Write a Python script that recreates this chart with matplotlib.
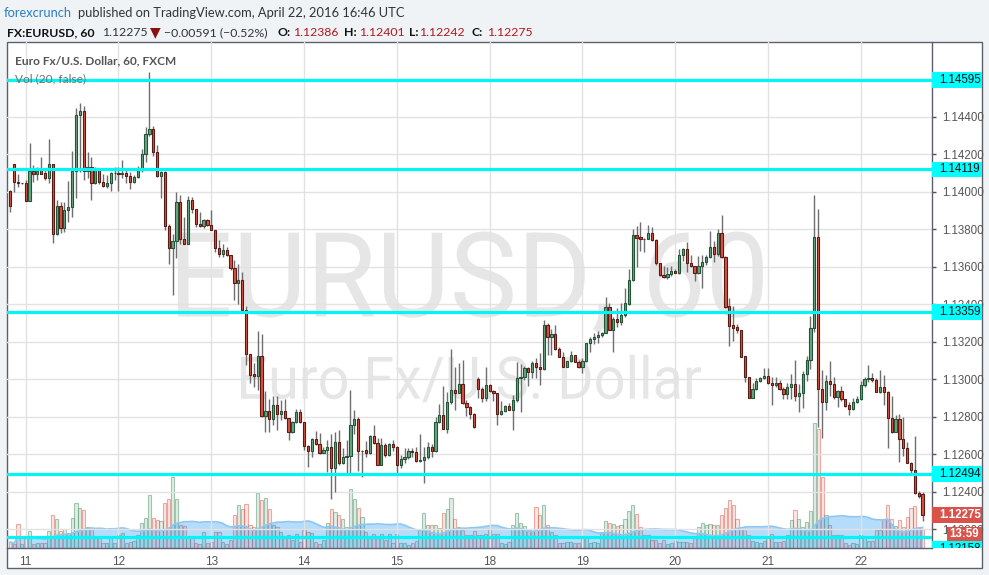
import numpy as np
import pandas as pd
import matplotlib
matplotlib.use("Agg")
import matplotlib.pyplot as plt
from matplotlib.patches import Rectangle, PathPatch
from matplotlib.textpath import TextPath
from matplotlib.font_manager import FontProperties
from matplotlib.transforms import Affine2D, blended_transform_factory, Bbox

# ---------------- data ----------------
opens = [1.14004, 1.14146, 1.14050, 1.14044, 1.14044, 1.13952, 1.14110, 1.14096, 1.14114, 1.14101,
         1.14071, 1.14146, 1.13772, 1.13922, 1.13804, 1.13900, 1.13916, 1.14110, 1.14409, 1.14430,
         1.14110, 1.14133, 1.14044, 1.14114, 1.14050, 1.14028, 1.14044, 1.14098, 1.14098, 1.14096,
         1.14098, 1.14085, 1.14050, 1.14080, 1.14114, 1.14199, 1.14306, 1.14332, 1.14210, 1.14085,
         1.14103, 1.13819, 1.13699, 1.13739, 1.13947, 1.13748, 1.13722, 1.13956, 1.13908, 1.13828,
         1.13817, 1.13849, 1.13823, 1.13796, 1.13700, 1.13668, 1.13691, 1.13663, 1.13594, 1.13512,
         1.13527, 1.13371, 1.13133, 1.13030, 1.13018, 1.13122, 1.12805, 1.12832, 1.12786, 1.12860,
         1.12817, 1.12832, 1.12791, 1.12716, 1.12770, 1.12823, 1.12770, 1.12645, 1.12619, 1.12679,
         1.12652, 1.12607, 1.12622, 1.12636, 1.12524, 1.12666, 1.12551, 1.12583, 1.12590, 1.12755,
         1.12790, 1.12618, 1.12622, 1.12607, 1.12696, 1.12661, 1.12545, 1.12648, 1.12595, 1.12652,
         1.12641, 1.12545, 1.12574, 1.12583, 1.12616, 1.12613, 1.12565, 1.12568, 1.12583, 1.12636,
         1.12618, 1.12774, 1.12808, 1.12737, 1.12876, 1.12945, 1.12927, 1.12972, 1.12874, 1.12853,
         1.12817, 1.13001, 1.12946, 1.12902, 1.12969, 1.12939, 1.12925, 1.12815, 1.12831, 1.12857,
         1.12836, 1.12889, 1.13005, 1.13014, 1.13058, 1.13040, 1.13085, 1.13063, 1.13054, 1.13289,
         1.13223, 1.13239, 1.13163, 1.13120, 1.13067, 1.13097, 1.13129, 1.13093, 1.13067, 1.13097,
         1.13195, 1.13214, 1.13225, 1.13236, 1.13248, 1.13383, 1.13262, 1.13319, 1.13307, 1.13342,
         1.13402, 1.13529, 1.13770, 1.13757, 1.13747, 1.13750, 1.13778, 1.13741, 1.13620, 1.13557,
         1.13543, 1.13561, 1.13577, 1.13565, 1.13664, 1.13694, 1.13619, 1.13605, 1.13565, 1.13605,
         1.13627, 1.13653, 1.13706, 1.13667, 1.13777, 1.13653, 1.13388, 1.13287, 1.13278, 1.13264,
         1.13123, 1.13010, 1.12902, 1.12948, 1.12990, 1.13008, 1.13017, 1.12982, 1.12967, 1.12982,
         1.12948, 1.12919, 1.12961, 1.12972, 1.12912, 1.12926, 1.13030, 1.13101, 1.13274, 1.13759,
         1.12950, 1.12876, 1.12989, 1.12972, 1.12903, 1.12936, 1.12892, 1.12862, 1.12839, 1.12876,
         1.12897, 1.12968, 1.13000, 1.13004, 1.12998, 1.12933, 1.12959, 1.12933, 1.12791, 1.12720,
         1.12788, 1.12681, 1.12635, 1.12552, 1.12517, 1.12393, 1.12386]
highs = [1.14009, 1.14146, 1.14095, 1.14048, 1.14062, 1.14258, 1.14142, 1.14133, 1.14183, 1.14124,
         1.14281, 1.14146, 1.13956, 1.13947, 1.13947, 1.14057, 1.14217, 1.14444, 1.14471, 1.14459,
         1.14210, 1.14183, 1.14133, 1.14124, 1.14096, 1.14089, 1.14107, 1.14133, 1.14133, 1.14169,
         1.14124, 1.14103, 1.14089, 1.14137, 1.14228, 1.14347, 1.14640, 1.14350, 1.14249, 1.14110,
         1.14110, 1.13830, 1.13775, 1.14000, 1.13982, 1.13867, 1.13979, 1.13973, 1.13908, 1.13894,
         1.13855, 1.13855, 1.13902, 1.13796, 1.13743, 1.13722, 1.13707, 1.13663, 1.13637, 1.13615,
         1.13574, 1.13388, 1.13133, 1.13087, 1.13255, 1.13243, 1.12936, 1.12892, 1.12910, 1.12910,
         1.12888, 1.12892, 1.12791, 1.12778, 1.12839, 1.12839, 1.12770, 1.12650, 1.12684, 1.12725,
         1.12714, 1.12636, 1.12675, 1.12710, 1.12719, 1.12728, 1.12631, 1.12675, 1.12941, 1.12835,
         1.12799, 1.12625, 1.12671, 1.12700, 1.12755, 1.12684, 1.12684, 1.12661, 1.12661, 1.12675,
         1.12643, 1.12595, 1.12631, 1.12631, 1.12631, 1.12639, 1.12710, 1.12639, 1.12666, 1.12652,
         1.12799, 1.12870, 1.12963, 1.12933, 1.13163, 1.13066, 1.13087, 1.13105, 1.12888, 1.12856,
         1.12820, 1.13010, 1.12960, 1.13063, 1.12972, 1.12942, 1.12925, 1.12886, 1.12862, 1.12875,
         1.12916, 1.13093, 1.13081, 1.13070, 1.13067, 1.13099, 1.13111, 1.13138, 1.13315, 1.13298,
         1.13266, 1.13289, 1.13173, 1.13147, 1.13097, 1.13150, 1.13130, 1.13102, 1.13111, 1.13195,
         1.13227, 1.13248, 1.13257, 1.13253, 1.13440, 1.13404, 1.13333, 1.13378, 1.13404, 1.13484,
         1.13588, 1.13800, 1.13817, 1.13840, 1.13752, 1.13823, 1.13812, 1.13745, 1.13622, 1.13606,
         1.13596, 1.13605, 1.13588, 1.13694, 1.13702, 1.13733, 1.13662, 1.13606, 1.13658, 1.13664,
         1.13664, 1.13791, 1.13738, 1.13800, 1.13876, 1.13658, 1.13434, 1.13393, 1.13293, 1.13264,
         1.13123, 1.13010, 1.12982, 1.13005, 1.13014, 1.13058, 1.13058, 1.13014, 1.13014, 1.12996,
         1.12960, 1.12981, 1.13030, 1.13101, 1.12972, 1.13042, 1.13122, 1.13335, 1.13982, 1.13910,
         1.13048, 1.13025, 1.13096, 1.13012, 1.12945, 1.12963, 1.12892, 1.12880, 1.12901, 1.12912,
         1.12989, 1.13012, 1.13078, 1.13035, 1.13004, 1.13048, 1.13021, 1.12936, 1.12912, 1.12809,
         1.12812, 1.12800, 1.12664, 1.12561, 1.12699, 1.12402, 1.12401]
lows = [1.13893, 1.14000, 1.14023, 1.14040, 1.13952, 1.13952, 1.14050, 1.14062, 1.14096, 1.14062,
        1.14044, 1.13724, 1.13769, 1.13778, 1.13787, 1.13840, 1.13867, 1.13968, 1.14107, 1.14062,
        1.14071, 1.13957, 1.14041, 1.14041, 1.14025, 1.14018, 1.14004, 1.14062, 1.14004, 1.14071,
        1.14044, 1.14012, 1.14048, 1.14075, 1.14107, 1.14156, 1.14299, 1.14192, 1.14080, 1.13968,
        1.13793, 1.13615, 1.13447, 1.13647, 1.13722, 1.13722, 1.13722, 1.13885, 1.13810, 1.13810,
        1.13807, 1.13817, 1.13793, 1.13677, 1.13654, 1.13654, 1.13658, 1.13580, 1.13424, 1.13402,
        1.13367, 1.13074, 1.12982, 1.12959, 1.12945, 1.12800, 1.12720, 1.12720, 1.12755, 1.12729,
        1.12782, 1.12786, 1.12676, 1.12711, 1.12764, 1.12764, 1.12622, 1.12534, 1.12587, 1.12649,
        1.12600, 1.12604, 1.12506, 1.12359, 1.12400, 1.12542, 1.12547, 1.12497, 1.12501, 1.12710,
        1.12512, 1.12476, 1.12586, 1.12600, 1.12654, 1.12542, 1.12542, 1.12586, 1.12590, 1.12618,
        1.12501, 1.12529, 1.12551, 1.12577, 1.12586, 1.12560, 1.12560, 1.12448, 1.12577, 1.12586,
        1.12613, 1.12767, 1.12737, 1.12714, 1.12870, 1.12835, 1.12927, 1.12870, 1.12803, 1.12790,
        1.12740, 1.12898, 1.12880, 1.12886, 1.12934, 1.12886, 1.12756, 1.12809, 1.12827, 1.12836,
        1.12729, 1.12880, 1.12827, 1.12996, 1.12964, 1.13005, 1.13005, 1.12969, 1.13049, 1.13129,
        1.13129, 1.13156, 1.13116, 1.13067, 1.13063, 1.13093, 1.13093, 1.13058, 1.13031, 1.13093,
        1.13147, 1.13188, 1.13195, 1.13227, 1.13244, 1.13262, 1.13147, 1.13280, 1.13289, 1.13333,
        1.13398, 1.13526, 1.13596, 1.13685, 1.13676, 1.13747, 1.13738, 1.13611, 1.13552, 1.13540,
        1.13535, 1.13552, 1.13565, 1.13561, 1.13632, 1.13570, 1.13598, 1.13526, 1.13561, 1.13485,
        1.13611, 1.13646, 1.13623, 1.13658, 1.13646, 1.13381, 1.13176, 1.13204, 1.13247, 1.13119,
        1.12987, 1.12899, 1.12899, 1.12943, 1.12984, 1.13000, 1.12975, 1.12863, 1.12960, 1.12943,
        1.12895, 1.12897, 1.12897, 1.12883, 1.12827, 1.12848, 1.12989, 1.13057, 1.13251, 1.12747,
        1.12688, 1.12835, 1.12912, 1.12897, 1.12853, 1.12883, 1.12853, 1.12809, 1.12835, 1.12871,
        1.12888, 1.12959, 1.12986, 1.12986, 1.12933, 1.12929, 1.12862, 1.12635, 1.12712, 1.12717,
        1.12558, 1.12588, 1.12552, 1.12499, 1.12388, 1.12366, 1.12242]
closes = [1.13925, 1.14050, 1.14044, 1.14044, 1.13952, 1.14110, 1.14096, 1.14110, 1.14096, 1.14071,
          1.14146, 1.13772, 1.13922, 1.13804, 1.13900, 1.13916, 1.14110, 1.14409, 1.14430, 1.14110,
          1.14133, 1.14044, 1.14114, 1.14050, 1.14028, 1.14044, 1.14098, 1.14098, 1.14096, 1.14098,
          1.14085, 1.14050, 1.14080, 1.14114, 1.14199, 1.14306, 1.14332, 1.14210, 1.14085, 1.14103,
          1.13819, 1.13699, 1.13739, 1.13947, 1.13748, 1.13722, 1.13956, 1.13908, 1.13828, 1.13817,
          1.13849, 1.13823, 1.13796, 1.13700, 1.13668, 1.13691, 1.13663, 1.13594, 1.13512, 1.13527,
          1.13371, 1.13133, 1.13025, 1.13018, 1.13122, 1.12805, 1.12832, 1.12786, 1.12860, 1.12817,
          1.12832, 1.12791, 1.12716, 1.12770, 1.12823, 1.12770, 1.12645, 1.12619, 1.12679, 1.12652,
          1.12607, 1.12622, 1.12636, 1.12524, 1.12666, 1.12551, 1.12583, 1.12590, 1.12755, 1.12790,
          1.12618, 1.12618, 1.12607, 1.12696, 1.12661, 1.12545, 1.12648, 1.12595, 1.12652, 1.12639,
          1.12545, 1.12574, 1.12583, 1.12616, 1.12613, 1.12565, 1.12568, 1.12583, 1.12636, 1.12618,
          1.12774, 1.12808, 1.12737, 1.12876, 1.12945, 1.12927, 1.12972, 1.12874, 1.12853, 1.12817,
          1.12744, 1.12946, 1.12902, 1.12969, 1.12939, 1.12925, 1.12815, 1.12831, 1.12857, 1.12836,
          1.12889, 1.13005, 1.13014, 1.13058, 1.13040, 1.13085, 1.13063, 1.13054, 1.13289, 1.13223,
          1.13239, 1.13163, 1.13120, 1.13067, 1.13097, 1.13129, 1.13093, 1.13067, 1.13097, 1.13195,
          1.13214, 1.13225, 1.13236, 1.13248, 1.13383, 1.13262, 1.13319, 1.13307, 1.13342, 1.13404,
          1.13529, 1.13770, 1.13755, 1.13747, 1.13750, 1.13778, 1.13741, 1.13618, 1.13556, 1.13543,
          1.13561, 1.13577, 1.13565, 1.13664, 1.13694, 1.13619, 1.13605, 1.13565, 1.13605, 1.13627,
          1.13653, 1.13706, 1.13667, 1.13777, 1.13653, 1.13384, 1.13282, 1.13275, 1.13264, 1.13119,
          1.13010, 1.12902, 1.12948, 1.12990, 1.13008, 1.13017, 1.12978, 1.12967, 1.12982, 1.12946,
          1.12922, 1.12961, 1.12972, 1.12912, 1.12926, 1.13030, 1.13101, 1.13274, 1.13759, 1.12950,
          1.12876, 1.12989, 1.12972, 1.12903, 1.12936, 1.12892, 1.12858, 1.12839, 1.12876, 1.12897,
          1.12968, 1.13000, 1.13004, 1.12998, 1.12933, 1.12959, 1.12933, 1.12791, 1.12720, 1.12788,
          1.12681, 1.12635, 1.12552, 1.12517, 1.12393, 1.12375, 1.12275]
volumes = [18, 11, 73, 13, 35, 52, 11, 16, 16, 16, 52, 98, 88, 52, 58, 45, 90, 136, 120, 113,
           64, 58, 36, 33, 15, 15, 33, 15, 40, 45, 15, 18, 20, 38, 76, 91, 158, 90, 83, 80,
           135, 148, 213, 148, 68, 65, 33, 33, 15, 11, 48, 16, 18, 48, 48, 18, 13, 23, 98, 128,
           118, 133, 68, 63, 166, 143, 151, 118, 68, 63, 48, 35, 38, 23, 43, 18, 53, 48, 45, 18,
           13, 23, 76, 118, 108, 98, 88, 63, 176, 148, 120, 93, 48, 35, 43, 35, 43, 23, 43, 16,
           43, 16, 16, 10, 16, 20, 58, 106, 70, 70, 68, 61, 106, 118, 151, 86, 63, 53, 40, 40,
           50, 38, 38, 43, 56, 43, 43, 16, 13, 18, 70, 106, 76, 66, 53, 58, 123, 100, 128, 70,
           48, 38, 16, 16, 18, 18, 16, 16, 35, 33, 16, 18, 16, 48, 80, 76, 73, 66, 68, 88,
           111, 128, 101, 63, 38, 38, 23, 23, 16, 23, 11, 16, 20, 18, 18, 18, 16, 33, 62, 76,
           70, 73, 70, 70, 100, 120, 143, 128, 86, 58, 58, 38, 20, 18, 16, 20, 36, 43, 18, 18,
           20, 38, 83, 113, 88, 63, 78, 110, 375, 357, 213, 98, 68, 40, 38, 38, 16, 8, 16, 13,
           38, 36, 20, 20, 53, 53, 86, 128, 88, 66, 83, 63, 93, 120, 126, 63, 58]
day_index = [4, 28, 52, 76, 100, 124, 148, 172, 196, 220]
day_labels = ["11", "12", "13", "14", "15", "18", "19", "20", "21", "22"]
levels = [1.14595, 1.14119, 1.13359, 1.12494, 1.12158]
last_price = 1.12275
price_ticks = [1.122, 1.124, 1.126, 1.128, 1.130, 1.132, 1.134, 1.136, 1.138, 1.140, 1.142, 1.144, 1.146]

# ---------------- layout ----------------
W, H = 989, 575
fig = plt.figure(figsize=(W / 100, H / 100), dpi=100, facecolor="#f0f3f6")

def fx(px):
    return px / W

def fy(py):
    return 1 - py / H

BG_FONT = "Lato"
AX_FONT = "Liberation Sans"

fig.add_artist(Rectangle((fx(7), fy(568)), fx(982) - fx(7), fy(42) - fy(568),
                         transform=fig.transFigure, facecolor="white",
                         edgecolor="#5d606b", lw=1, zorder=-10))

rect = [fx(7), fy(548), fx(931.5) - fx(7), fy(42) - fy(548)]
axv = fig.add_axes(rect, zorder=0)
ax = fig.add_axes(rect, zorder=1)
ax.patch.set_visible(False)

n = len(closes)
x = np.arange(n)
o = np.array(opens); h = np.array(highs); l = np.array(lows); c = np.array(closes)
up = c >= o

XL = (-0.84, 238.3)
YL = (1.12100, 1.14798)

# volume
vol = np.array(volumes, dtype=float)
vcol_face = np.where(up, "#6ba58333", "#d7544222")
vcol_edge = np.where(up, "#6ba58399", "#d7544277")
axv.bar(x, vol, width=0.82, color=list(vcol_face), edgecolor=list(vcol_edge), lw=0.8, zorder=2)
ma = pd.Series(vol).rolling(20, min_periods=1).mean().to_numpy()
axv.fill_between(x, 0, ma, color="#2196f3", alpha=0.33, lw=0, zorder=3)
axv.plot(x, ma, color="#8cc6f2", lw=1.2, zorder=3)
axv.set_xlim(*XL)
axv.set_ylim(0, 506 * 3)
axv.axis("off")

# grid / axes
ax.set_axisbelow(True)
ax.set_xticks(day_index)
ax.set_xticklabels(day_labels)
ax.set_yticks(price_ticks)
ax.set_yticklabels([("" if t > 1.1455 else f"{t:.5f}") for t in price_ticks])
ax.grid(True, color="#e2e2e2", lw=1)
ax.yaxis.tick_right()
ax.tick_params(axis="y", length=3, width=1, color="#555555", pad=5,
               labelsize=8.3, labelcolor="#555555")
ax.tick_params(axis="x", length=0, pad=6, labelsize=8.5, labelcolor="#555555")
for lab in ax.get_xticklabels() + ax.get_yticklabels():
    lab.set_fontfamily(AX_FONT)
for s in ["left", "top"]:
    ax.spines[s].set_visible(False)
for s in ["right", "bottom"]:
    ax.spines[s].set_color("#5d606b")
    ax.spines[s].set_linewidth(1)

# watermark
def watermark(s, x0, x1, ytop, ybase, color):
    fp = FontProperties(family="Roboto", weight="normal")
    tp = TextPath((0, 0), s, size=100, prop=fp)
    bb = tp.get_extents()
    cap = TextPath((0, 0), "E", size=100, prop=fp).get_extents()
    sx = (x1 - x0) / bb.width
    sy = (ybase - ytop) / cap.y1
    tr = Affine2D().translate(-bb.x0, 0).scale(sx, sy).translate(x0, H - ybase)
    p = PathPatch(tp, transform=tr, facecolor=color, lw=0, zorder=0.3)
    p.set_clip_on(False)
    ax.add_artist(p)

watermark("EURUSD, 60", 177.8, 762.8, 232.7, 316.5, "#e6e6e6")
watermark("Euro Fx/U.S. Dollar", 241, 701, 357, 398.7, "#e6e6e6")

# candles
ax.vlines(x, l, h, color="#6e6e70", lw=1, zorder=2)
body_bottom = np.minimum(o, c)
body_h = np.maximum(np.abs(c - o), 0.000015)
ax.bar(x, body_h, bottom=body_bottom, width=0.58,
       color=np.where(up, "#6ba583", "#d75442"),
       edgecolor=np.where(up, "#225437", "#5b1a13"), lw=0.8, zorder=3)

# horizontal levels
for lv in levels:
    ax.axhline(lv, color="#00f5f5", lw=2.3, zorder=4)

ax.set_xlim(*XL)
ax.set_ylim(*YL)

# in-chart titles
fig.text(fx(15.3), fy(60.7), "Euro Fx/U.S. Dollar, 60, FXCM", fontsize=8.6, fontweight="bold",
         color="#555555", va="center", ha="left", family=BG_FONT)
fig.text(fx(15.3), fy(78.3), "Vol (20, false)", fontsize=8.6, color="#707070",
         va="center", ha="left", family=BG_FONT)

# right-scale labels
btr = blended_transform_factory(fig.transFigure, ax.transData)
pxu = (YL[1] - YL[0]) / 506.0
clip = Bbox.from_extents(920, H - 548, 990, H - 42)

def scale_label(yc, text, face, tcolor, x0=931.5, x1=982, bold=False, tx=939.3, hpx=15.5, z=6):
    r = Rectangle((fx(x0), yc - hpx / 2 * pxu), fx(x1) - fx(x0), hpx * pxu,
                  transform=btr, facecolor=face, edgecolor="none", zorder=z)
    fig.add_artist(r)
    r.set_clip_box(clip)
    r.set_clip_on(True)
    t = fig.text(fx(tx), yc, text, transform=btr, va="center", ha="left",
                 fontsize=8.3, color=tcolor, family=AX_FONT,
                 fontweight="bold" if bold else "normal", zorder=z + 0.1)
    t.set_clip_box(clip)
    t.set_clip_on(True)

for lv in levels[:-1]:
    scale_label(lv, f"{lv:.5f}", "#00ffff", "#111111")
# lowest level label is pushed down below the countdown box (clipped by the pane)
low_label_y = YL[1] - (548.8 - 42) * pxu
scale_label(low_label_y, f"{levels[-1]:.5f}", "#00ffff", "#111111")
scale_label(last_price, f"{last_price:.5f}", "#d9534a", "white", bold=True, z=7)
# countdown box
cd = Rectangle((fx(946.7), fy(541)), fx(982) - fx(946.7), fy(526.7) - fy(541),
               transform=fig.transFigure, facecolor="#d9534a", edgecolor="none", zorder=8)
fig.add_artist(cd)
fig.text(fx(964.3), fy(533.8), "13:59", ha="center", va="center", color="white",
         fontsize=8.3, fontweight="bold", family=AX_FONT, zorder=8.1)

# header
hy1, hy2 = fy(12.7), fy(32.7)
fig.text(fx(4), hy1, "forexcrunch", color="#2a7dc2", fontsize=9.3, va="center", family=BG_FONT)
fig.text(fx(78), hy1, "published on TradingView.com, April 22, 2016 16:46 UTC", color="#333333",
         fontsize=9.3, va="center", family=BG_FONT)
pieces = [
    (7, "FX:EURUSD, 60", "#111111", "bold"),
    (102, "1.12275", "#333333", "normal"),
    (164, "\u22120.00591 (\u22120.52%)", "#333333", "normal"),
    (278, "O:", "#111111", "bold"),
    (293, "1.12386", "#b0191e", "normal"),
    (344, "H:", "#111111", "bold"),
    (359, "1.12401", "#b0191e", "normal"),
    (409, "L:", "#111111", "bold"),
    (419, "1.12242", "#b0191e", "normal"),
    (472, "C:", "#111111", "bold"),
    (487, "1.12275", "#b0191e", "normal"),
]
for px_, s, col, wt in pieces:
    fig.text(fx(px_), hy2, s, color=col, fontsize=8.8, fontweight=wt, va="center", family=BG_FONT)
fig.text(fx(155), hy2, "\u25bc", color="#8b1010", fontsize=10, va="center", ha="center",
         family="DejaVu Sans")

fig.savefig("out.png", dpi=100, facecolor=fig.get_facecolor())
